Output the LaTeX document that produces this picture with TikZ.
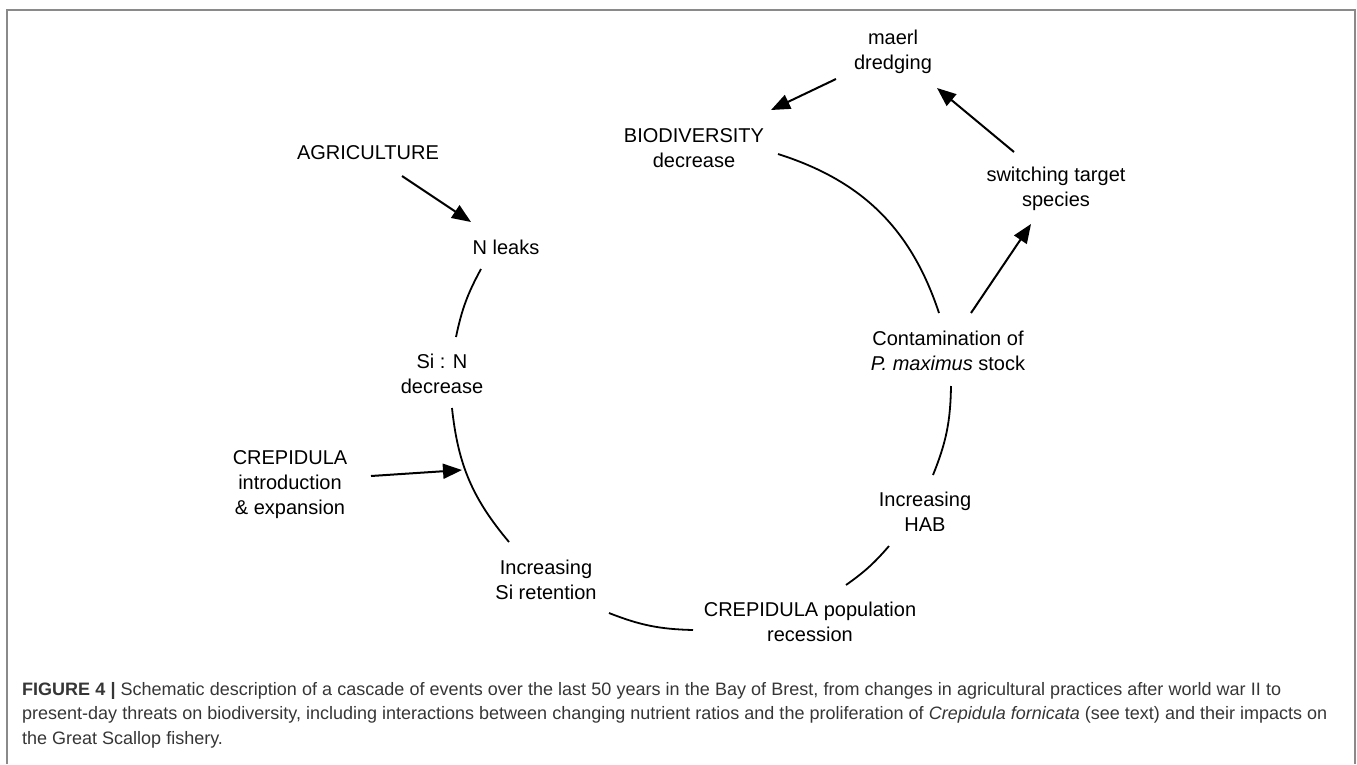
\documentclass[tikz,border=0pt]{standalone}
\usepackage{fontspec}
\setmainfont{Liberation Sans}
\usetikzlibrary{arrows.meta}
\definecolor{framegray}{HTML}{8A8A8A}
\definecolor{captext}{HTML}{363636}
\begin{document}
\begin{tikzpicture}[x=1pt,y=1pt,
  lbl/.style={font=\fontsize{20}{25}\selectfont, align=center, inner sep=0pt},
  arcline/.style={line width=1.8pt},
  arr/.style={line width=2pt, -{Triangle[length=19pt,width=15pt]}},
  caption/.style={anchor=north west, align=left, inner sep=0pt, text=captext, font=\fontsize{18}{24.5}\selectfont},
]
\useasboundingbox (0,0) rectangle (1357,-764);
\draw[line width=2pt, color=framegray] (7,-764) -- (7,-10) -- (1355,-10) -- (1355,-764);

\node[lbl] (maerl) at (893,-52) {maerl\\dredging};
\node[lbl] (biod) at (694,-148) {BIODIVERSITY\\decrease};
\node[lbl] (agri) at (368,-153) {AGRICULTURE};
\node[lbl] (nleaks) at (506,-247) {N leaks};
\node[lbl] (switch) at (1056,-189) {switching target\\species};
\node[lbl] (contam) at (948,-351) {Contamination of\\\textit{P. maximus} stock};
\node[lbl] (sin) at (442,-374) {Si : N\\decrease};
\node[lbl] (crint) at (290,-485) {CREPIDULA\\introduction\\\& expansion};
\node[lbl] (siret) at (546,-580) {Increasing\\Si retention};
\node[lbl] (hab) at (925,-512) {Increasing\\HAB};
\node[lbl] (crpop) at (810,-622) {CREPIDULA population\\recession};
\coordinate (crtip) at (462,-470);

\draw[arcline] ([shift={(-25,-22)}]nleaks.center) to[bend right=8.4] ([shift={(14,37)}]sin.center);
\draw[arcline] ([shift={(10,-34)}]sin.center) to[bend right=17] ([shift={(-37,38)}]siret.center);
\draw[arcline] ([shift={(63,-33)}]siret.center) to[bend right=10] ([shift={(-117,-8)}]crpop.center);
\draw[arcline] ([shift={(36,37)}]crpop.center) to[bend right=7] ([shift={(-36,-34)}]hab.center);
\draw[arcline] ([shift={(8,37)}]hab.center) to[bend right=10.5] ([shift={(3,-35)}]contam.center);
\draw[arcline] ([shift={(-9,38)}]contam.center) to[bend right=27] ([shift={(84,-6)}]biod.center);

\draw[arr] ([shift={(34,-23)}]agri.center) -- ([shift={(-35,25)}]nleaks.center);
\draw[arr] ([shift={(81,9)}]crint.center) -- (crtip);
\draw[arr] ([shift={(23,38)}]contam.center) -- ([shift={(-25,-35)}]switch.center);
\draw[arr] ([shift={(-42,37)}]switch.center) -- ([shift={(44,-36)}]maerl.center);
\draw[arr] ([shift={(-57,-27)}]maerl.center) -- ([shift={(77,38)}]biod.center);

\node[caption] (cap) at (22,-682)
{\makebox[1259pt][s]{\textbf{FIGURE 4 |} Schematic description of a cascade of events over the last 50 years in the Bay of Brest, from changes in agricultural practices after world war II to}\\
\makebox[1305pt][s]{present-day threats on biodiversity, including interactions between changing nutrient ratios and the proliferation of \textit{Crepidula fornicata} (see text) and their impacts on}\\
the Great Scallop fishery.};
\end{tikzpicture}
\end{document}
